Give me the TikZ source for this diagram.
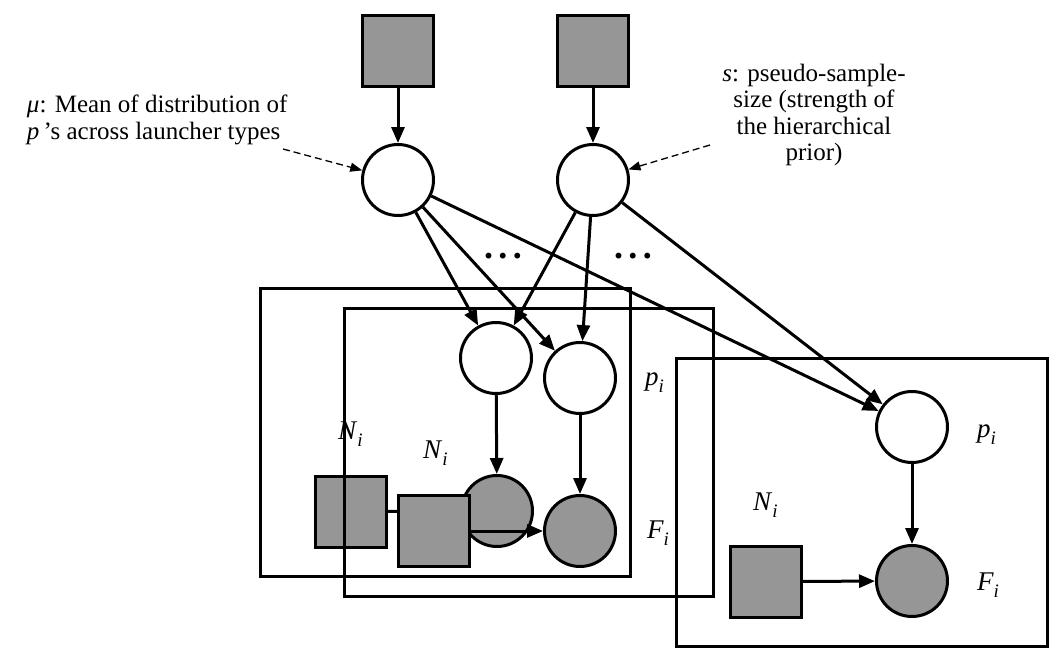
\documentclass[tikz,border=0pt]{standalone}
\usepackage{fontspec}
\setmainfont{Liberation Serif}
\usetikzlibrary{arrows.meta}
\definecolor{fillg}{RGB}{150,150,150}
\newcommand\sublab[2]{\textit{#1}\raisebox{-7pt}{\fontsize{19}{19}\selectfont\textit{#2}}}
\begin{document}
\begin{tikzpicture}[x=1pt,y=-1pt,
  every node/.style={inner sep=0pt, outer sep=0pt},
  lw/.style={line width=3pt},
  latc/.style={circle, draw, lw, fill=white, minimum size=71pt, outer sep=1.5pt},
  obsc/.style={circle, draw, lw, fill=fillg, minimum size=71pt, outer sep=1.5pt},
  cstb/.style={rectangle, draw, lw, fill=fillg, minimum size=71pt, outer sep=1.5pt},
  platebox/.style={draw, lw},
  edge/.style={lw, -{Triangle[length=16pt,width=13pt]}},
  note/.style={line width=1.3pt, dash pattern=on 7pt off 4pt, -{Triangle[length=12pt,width=9pt]}},
  anno/.style={font=\fontsize{25}{26.7}\selectfont},
  lab/.style={font=\fontsize{27}{27}\selectfont, anchor=base west},
  dotsty/.style={font=\fontsize{36}{36}\selectfont\bfseries, anchor=base},
]
\useasboundingbox (0,0) rectangle (1061,662);

% plate 1
\draw[platebox] (260,288) rectangle (630,576);
\node[latc] (pA) at (496,358) {};
\node[obsc] (FA) at (497,511) {};
\node[cstb] (sA) at (351,511.5) {};
\draw[edge] (sA) -- (FA);
\draw[edge] (pA) -- (FA);
\node[lab] (NA) at (338,439) {\sublab{N}{i}};

% plate 2
\draw[platebox] (344,308) rectangle (713,596);
\node[latc] (pB) at (580,378) {};
\node[obsc] (FB) at (580,531) {};
\node[cstb] (sB) at (434,531) {};
\draw[edge] (sB) -- (FB);
\draw[edge] (pB) -- (FB);
\node[lab] (NB) at (423,458) {\sublab{N}{i}};
\node[lab] (pBl) at (645,385) {\sublab{p}{i}};
\node[lab] (FBl) at (647,538) {\sublab{F}{i}};

% plate 3
\draw[platebox] (676,358) rectangle (1047,646);
\node[latc] (pC) at (912,427) {};
\node[obsc] (FC) at (912,581) {};
\node[cstb] (sC) at (766,581.5) {};
\draw[edge] (sC) -- (FC);
\draw[edge] (pC) -- (FC);
\node[lab] (NC) at (753,510) {\sublab{N}{i}};
\node[lab] (pCl) at (977,437) {\sublab{p}{i}};
\node[lab] (FCl) at (977,590) {\sublab{F}{i}};

% top
\node[cstb] (sq1) at (398,51) {};
\node[cstb] (sq2) at (593,51) {};
\node[latc] (mu) at (398,180) {};
\node[latc] (ss) at (593,180) {};
\draw[edge] (sq1) -- (mu);
\draw[edge] (sq2) -- (ss);
\draw[edge] (mu) -- (pA);
\draw[edge] (mu) -- (pB);
\draw[edge] (mu) -- (pC);
\draw[edge] (ss) -- (pA);
\draw[edge] (ss) -- (pB);
\draw[edge] (ss) -- (pC);

\node[dotsty] (dots1) at (503,258) {.\kern5.5pt.\kern5.5pt.};
\node[dotsty] (dots2) at (633,258) {.\kern5.5pt.\kern5.5pt.};

% annotations
\node[anno, anchor=base west] (muA) at (27,112) {\textit{μ}: Mean of distribution of};
\node[anno, anchor=base west] (muB) at (27,139) {\textit{p}\,’s across launcher types};
\coordinate (muS) at (283,149);
\draw[note] (muS) -- (mu);

\node[anno, anchor=base] (sA1) at (814,81) {\textit{s}: pseudo-sample-};
\node[anno, anchor=base] (sA2) at (814,107) {size (strength of};
\node[anno, anchor=base] (sA3) at (814,134) {the hierarchical};
\node[anno, anchor=base] (sA4) at (814,160) {prior)};
\coordinate (sS) at (710,145);
\draw[note] (sS) -- (ss);
\end{tikzpicture}
\end{document}
